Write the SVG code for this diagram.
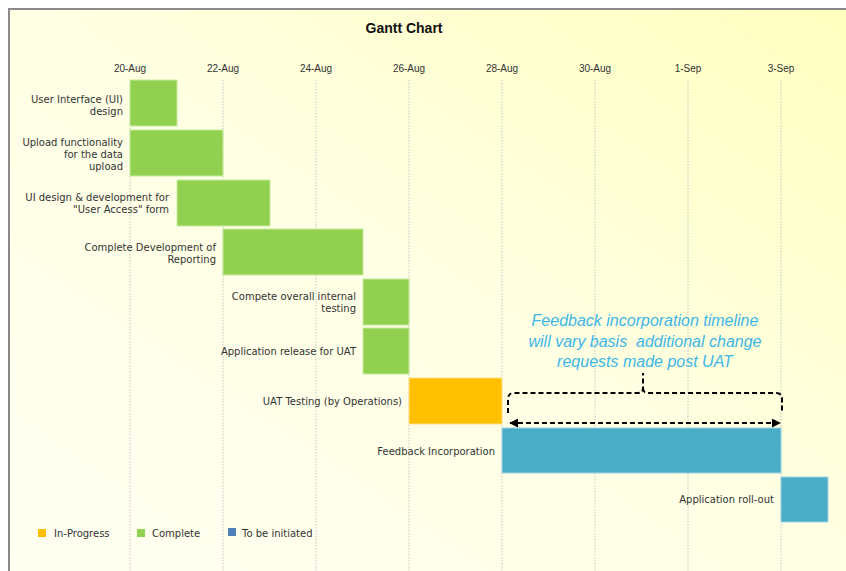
<svg xmlns="http://www.w3.org/2000/svg" width="846" height="571" viewBox="0 0 846 571">
<defs>
<linearGradient id="bg" x1="0" y1="1" x2="1" y2="0">
<stop offset="0" stop-color="#FFFFF2"/>
<stop offset="0.5" stop-color="#FFFFE4"/>
<stop offset="1" stop-color="#FFFFC0"/>
</linearGradient>
<marker id="ah" viewBox="0 0 10 10" refX="9" refY="5" markerWidth="4.5" markerHeight="4.5" orient="auto-start-reverse">
<path d="M0,0 L10,5 L0,10 z" fill="#000"/>
</marker>
<style>
.lbl{font-family:"DejaVu Sans",Verdana,sans-serif;font-size:10px;fill:#333;text-anchor:end}
.date{font-family:"Liberation Sans",Arial,sans-serif;font-size:10px;fill:#333;text-anchor:middle}
.grid{stroke:#c4c4c4;stroke-width:1;stroke-dasharray:1.5 1.5}
.g{fill:#92D050;stroke:#c8ec9c;stroke-width:1}
.o{fill:#FFC000;stroke:#ffe08a;stroke-width:1}
.b{fill:#4BACC6;stroke:#9fd6e4;stroke-width:1}
.note{font-family:"Liberation Sans",Arial,sans-serif;font-style:italic;font-size:16px;fill:#3DB5E8;text-anchor:middle;white-space:pre}
.leg{font-family:"DejaVu Sans",Verdana,sans-serif;font-size:10px;fill:#333}
.dash{fill:none;stroke:#000;stroke-width:2;stroke-dasharray:5 3}
</style>
</defs>
<rect x="0" y="0" width="846" height="571" fill="#ffffff"/>
<rect x="9" y="9" width="837" height="562" fill="url(#bg)"/>
<path d="M9,571 V9 H846" fill="none" stroke="#8a8a8a" stroke-width="2"/>
<text x="404" y="33" font-family="Liberation Sans,Arial,sans-serif" font-size="14" font-weight="bold" fill="#111" text-anchor="middle">Gantt Chart</text>
<g id="axis">
<text class="date" x="130" y="72">20-Aug</text>
<text class="date" x="223" y="72">22-Aug</text>
<text class="date" x="316" y="72">24-Aug</text>
<text class="date" x="409" y="72">26-Aug</text>
<text class="date" x="502" y="72">28-Aug</text>
<text class="date" x="595" y="72">30-Aug</text>
<text class="date" x="688" y="72">1-Sep</text>
<text class="date" x="781" y="72">3-Sep</text>
<line class="grid" x1="130" y1="80" x2="130" y2="571"/>
<line class="grid" x1="223" y1="80" x2="223" y2="571"/>
<line class="grid" x1="316" y1="80" x2="316" y2="571"/>
<line class="grid" x1="409" y1="80" x2="409" y2="571"/>
<line class="grid" x1="502" y1="80" x2="502" y2="571"/>
<line class="grid" x1="595" y1="80" x2="595" y2="571"/>
<line class="grid" x1="688" y1="80" x2="688" y2="571"/>
<line class="grid" x1="781" y1="80" x2="781" y2="571"/>
</g>
<g id="task1"><rect class="g" x="130" y="80" width="47" height="46"/>
<text class="lbl" x="123" y="103">User Interface (UI)</text><text class="lbl" x="123" y="115">design</text></g>
<g id="task2"><rect class="g" x="130" y="130" width="93" height="46"/>
<text class="lbl" x="123" y="146">Upload functionality</text><text class="lbl" x="123" y="158">for the data</text><text class="lbl" x="123" y="170">upload</text></g>
<g id="task3"><rect class="g" x="177" y="180" width="93" height="46"/>
<text class="lbl" x="169" y="201">UI design &amp; development for</text><text class="lbl" x="169" y="213">"User Access" form</text></g>
<g id="task4"><rect class="g" x="223" y="229" width="140" height="46"/>
<text class="lbl" x="216" y="251">Complete Development of</text><text class="lbl" x="216" y="263">Reporting</text></g>
<g id="task5"><rect class="g" x="363" y="279" width="46" height="46"/>
<text class="lbl" x="356" y="300">Compete overall internal</text><text class="lbl" x="356" y="312">testing</text></g>
<g id="task6"><rect class="g" x="363" y="328" width="46" height="46"/>
<text class="lbl" x="356" y="355">Application release for UAT</text></g>
<g id="task7"><rect class="o" x="409" y="378" width="93" height="46"/>
<text class="lbl" x="402" y="405">UAT Testing (by Operations)</text></g>
<g id="task8"><rect class="b" x="502" y="428" width="279" height="45"/>
<text class="lbl" x="495" y="455">Feedback Incorporation</text></g>
<g id="task9"><rect class="b" x="781" y="477" width="47" height="45"/>
<text class="lbl" x="774" y="503">Application roll-out</text></g>
<g id="annotation">
<text class="note" x="645" y="326">Feedback incorporation timeline</text>
<text class="note" x="645" y="347" xml:space="preserve">will vary basis  additional change</text>
<text class="note" x="645" y="367">requests made post UAT</text>
</g>
<g id="connectors">
<path class="dash" d="M508,413 V399 Q508,393 514,393 H638 Q643,393 643,388 V373 M643,388 Q643,393 648,393 H776 Q782,393 782,399 V413"/>
<line class="dash" x1="510" y1="423" x2="780" y2="423" marker-start="url(#ah)" marker-end="url(#ah)"/>
</g>
<g id="legend">
<rect x="38" y="529" width="8" height="8" fill="#FFC000"/><text class="leg" x="54" y="537">In-Progress</text>
<rect x="137" y="529" width="8" height="8" fill="#92D050"/><text class="leg" x="152" y="537">Complete</text>
<rect x="228" y="528" width="8" height="8" fill="#4F81BD"/><text class="leg" x="242" y="537">To be initiated</text>
</g>
</svg>
